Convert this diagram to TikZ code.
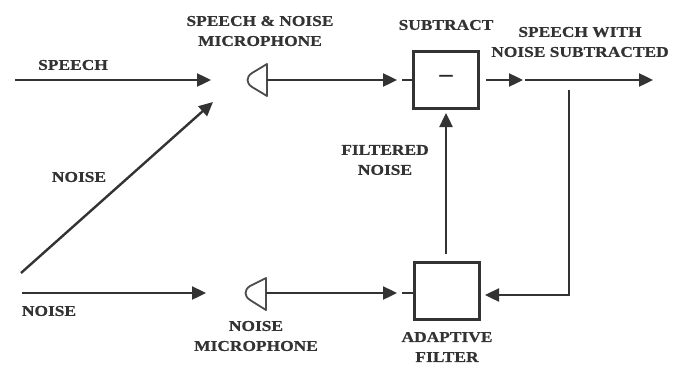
\documentclass[tikz,border=0pt]{standalone}
\usepackage{fontspec}
\setmainfont{Liberation Serif}[BoldFeatures={FakeStretch=1.16,FakeBold=0.6}]
\usetikzlibrary{arrows.meta}
\tikzset{
 lab/.style={font=\bfseries\fontsize{15}{20}\selectfont,align=center,text=black!80,inner sep=0pt},
 boxn/.style={draw=black!80,line width=2.5pt,minimum width=65pt,minimum height=57pt,inner sep=0pt},
 conn/.style={draw=black!80,line width=2.4pt},
 arr/.style={conn,-{Triangle[length=14pt,width=13pt]}},
 mic/.style={draw=black!70,line width=1.8pt,line join=round},
 minusn/.style={font=\bfseries\fontsize{22}{22}\selectfont,text=black!85,inner sep=0pt}
}
\begin{document}
\begin{tikzpicture}[x=1pt,y=-1pt]
\useasboundingbox (0,0) rectangle (679,364);
\fill[white] (0,0) rectangle (679,364);
\node[boxn] (sub) at (446,80) {};
\node[minusn] (minus) at (446,78) {–};
\node[boxn] (ada) at (447,291) {};
\coordinate (m1) at (267,80);
\coordinate (m2) at (266,293);
\draw[mic] (267,64) -- (267,96) -- (252,87) .. controls (246,83) and (246,77) .. (252,73) -- cycle;
\draw[mic] (266,278) -- (266,310) -- (250,300) .. controls (244,296) and (244,290) .. (250,286) -- cycle;
\coordinate (s0) at (15,80); \coordinate (s1) at (211,80);
\coordinate (n0) at (21,273); \coordinate (n1) at (213,102);
\coordinate (q0) at (22,293); \coordinate (q1) at (206,293);
\coordinate (a1) at (397,80); \coordinate (a1b) at (402,80);
\coordinate (a2) at (397,293); \coordinate (a2b) at (402,293);
\coordinate (o0) at (486,80); \coordinate (o1) at (523,80);
\coordinate (o2) at (525,80); \coordinate (o3) at (653,80);
\coordinate (tap) at (569,90); \coordinate (corner) at (569,295);
\coordinate (up0) at (446,254); \coordinate (up1) at (446,113);
\coordinate (back) at (485,295);
\draw[arr] (s0) -- (s1);
\draw[arr] (n0) -- (n1);
\draw[arr] (q0) -- (q1);
\draw[arr] (m1) -- (a1);
\draw[conn] (a1b) -- (sub.west);
\draw[arr] (m2) -- (a2);
\draw[conn] (a2b) -- (ada.west|-a2b);
\draw[arr] (o0) -- (o1);
\draw[arr] (o2) -- (o3);
\draw[arr] (up0) -- (up1);
\draw[arr] (tap) -- (corner) -- (back);
\node[lab] (t1) at (73,65) {SPEECH};
\node[lab] (t2) at (79,177) {NOISE};
\node[lab] (t3) at (49,311) {NOISE};
\node[lab] (t4) at (260,31) {SPEECH \& NOISE\\MICROPHONE};
\node[lab] (t5) at (446,25) {SUBTRACT};
\node[lab] (t6) at (580,42) {SPEECH WITH\\NOISE SUBTRACTED};
\node[lab] (t7) at (385,160) {FILTERED\\NOISE};
\node[lab] (t8) at (256,336) {NOISE\\MICROPHONE};
\node[lab] (t9) at (447,347) {ADAPTIVE\\FILTER};
\end{tikzpicture}
\end{document}
